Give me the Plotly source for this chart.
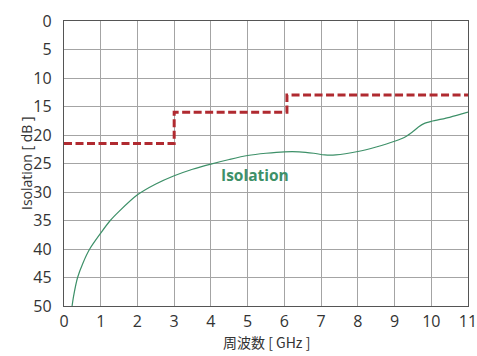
import plotly.graph_objects as go

# Limit (step) line
limit_x = [0, 3, 3, 6.07, 6.07, 11]
limit_y = [21.5, 21.5, 16, 16, 13, 13]

# Isolation curve
iso_x = [0.22, 0.26, 0.37, 0.52, 0.70, 1.0, 1.26, 1.5, 2.0, 2.5, 3.0, 3.5, 4.0, 4.5, 5.0, 5.5, 6.0, 6.4, 6.8, 7.1, 7.4, 8.0, 8.5, 9.0, 9.3, 9.5, 9.65, 9.8, 10.0, 10.5, 11.0]
iso_y = [50, 48.3, 45, 42.4, 40.0, 37.2, 35.0, 33.4, 30.5, 28.6, 27.15, 26.0, 25.1, 24.3, 23.6, 23.2, 22.95, 22.95, 23.2, 23.5, 23.5, 22.9, 22.1, 21.1, 20.3, 19.4, 18.6, 18.0, 17.6, 16.9, 16.0]

x_ticks = list(range(0, 12))
y_ticks = list(range(0, 55, 5))

fig = go.Figure()
fig.add_trace(go.Scatter(x=limit_x, y=limit_y, mode="lines",
                         line=dict(color="#b02a30", width=3, dash="8px,3.5px"),
                         showlegend=False, hoverinfo="skip"))
fig.add_trace(go.Scatter(x=iso_x, y=iso_y, mode="lines",
                         line=dict(color="#3d9068", width=1.2, shape="spline", smoothing=0.8),
                         showlegend=False, hoverinfo="skip"))

fig.add_annotation(x=5.21, y=27.1, text="<b>Isolation</b>", showarrow=False,
                   font=dict(family="Open Sans", size=15.5, color="#3d9068"))

# Axis titles
fig.add_annotation(xref="paper", yref="paper", x=0.5, y=0, yshift=-48,
                   text="周波数 [ GHz ]", showarrow=False,
                   font=dict(family="Noto Sans CJK JP", size=14, color="#333"))
fig.add_annotation(xref="paper", yref="paper", x=0, xshift=-49, y=0.5,
                   text="Isolation [ dB ]", showarrow=False, textangle=-90,
                   font=dict(family="Open Sans", size=14, color="#333"))

axis_common = dict(showgrid=True, gridcolor="#a4a4a4", gridwidth=1.2,
                   showline=True, linecolor="#555", linewidth=1.3, mirror=True,
                   zeroline=False, ticks="outside", tickcolor="rgba(0,0,0,0)",
                   automargin=False, ticklabeloverflow="allow",
                   tickfont=dict(family="Open Sans", size=16, color="#333"))

fig.update_xaxes(range=[0, 11], tickvals=x_ticks, ticklen=1, **axis_common)
fig.update_yaxes(range=[50, 0], tickvals=y_ticks, ticklen=8, **axis_common)

fig.update_layout(width=477, height=356, margin=dict(l=64, r=9, t=21, b=50),
                  plot_bgcolor="white", paper_bgcolor="white")

# remove the default page margin so the figure fills the window exactly
fig.write_html("out.html", config={"displayModeBar": False},
               post_script="document.body.style.margin='0';document.body.style.overflow='hidden';")
